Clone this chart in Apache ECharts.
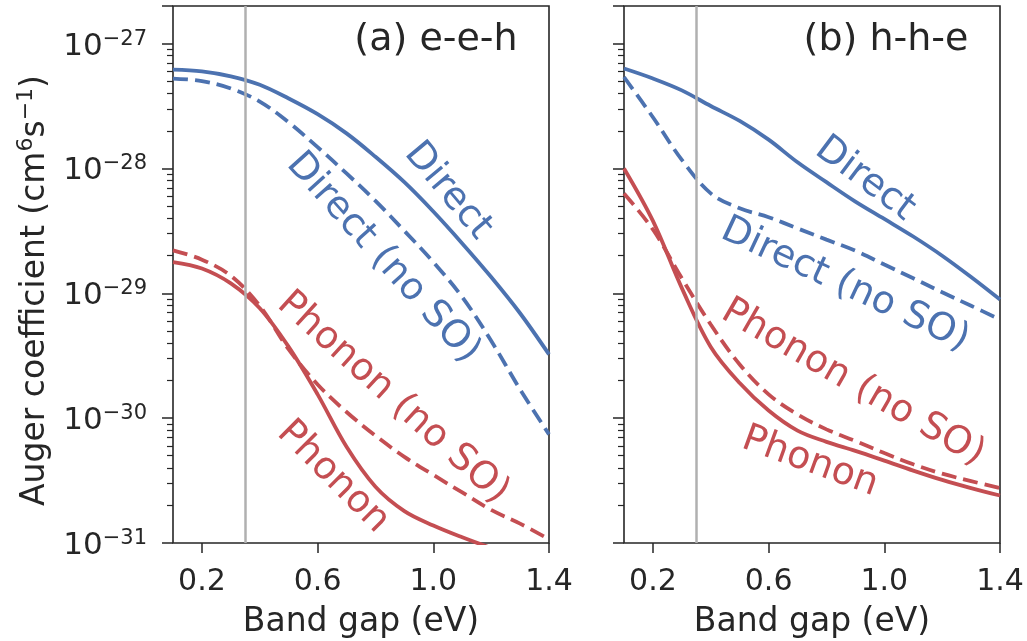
<!DOCTYPE html>
<html>
<head>
<meta charset="utf-8">
<script src="https://cdn.jsdelivr.net/npm/echarts@6/dist/echarts.min.js"></script>
<style>
html,body{margin:0;padding:0;background:#fff;}
#chart{width:1027px;height:641px;}
</style>
</head>
<body>
<div id="chart"></div>
<script>
// ---- data (Auger coefficient in cm^6 s^-1) ----
const bandGap = [0.1,0.2,0.3,0.4,0.5,0.6,0.7,0.8,0.9,1.0,1.1,1.2,1.3,1.4];

// (a) e-e-h
const directA      = [6.19e-28,6.00e-28,5.47e-28,4.68e-28,3.63e-28,2.72e-28,1.91e-28,1.24e-28,7.76e-29,4.52e-29,2.51e-29,1.35e-29,6.92e-30,3.24e-30];
const directNoSOA  = [5.25e-28,5.01e-28,4.37e-28,3.43e-28,2.34e-28,1.48e-28,9.12e-29,5.50e-29,3.16e-29,1.78e-29,9.33e-30,4.17e-30,1.70e-30,7.41e-31];
const phononA      = [1.78e-29,1.58e-29,1.20e-29,7.59e-30,3.72e-30,1.55e-30,5.89e-31,2.82e-31,1.80e-31,1.38e-31,1.11e-31,9.12e-32,7.59e-32,6.31e-32];
const phononNoSOA  = [2.21e-29,1.86e-29,1.38e-29,7.94e-30,3.55e-30,1.86e-30,1.12e-30,7.24e-31,4.90e-31,3.51e-31,2.54e-31,1.84e-31,1.43e-31,1.07e-31];

// (b) h-h-e
const directB      = [6.31e-28,5.25e-28,4.22e-28,3.16e-28,2.40e-28,1.70e-28,1.12e-28,7.76e-29,5.43e-29,3.94e-29,2.85e-29,2.00e-29,1.35e-29,8.91e-30];
const directNoSOB  = [5.40e-28,2.57e-28,1.17e-28,6.31e-29,4.79e-29,4.07e-29,3.31e-29,2.69e-29,2.19e-29,1.70e-29,1.32e-29,1.02e-29,7.94e-30,6.17e-30];
const phononB      = [1.00e-28,3.80e-29,1.10e-29,3.72e-30,1.91e-30,1.15e-30,7.94e-31,6.46e-31,5.47e-31,4.57e-31,3.80e-31,3.20e-31,2.75e-31,2.40e-31];
const phononNoSOB  = [6.31e-29,3.24e-29,1.32e-29,5.62e-30,2.69e-30,1.55e-30,1.07e-30,8.13e-31,6.56e-31,5.25e-31,4.27e-31,3.59e-31,3.13e-31,2.75e-31];

const refGap = [0.35];
const xTickValues = [0.2,0.6,1.0,1.4];
const yMajorTicks = [1e-31,1e-30,1e-29,1e-28,1e-27];
const yRange = [1e-31, 2e-27];
const panelTitles = ['(a) e-e-h', '(b) h-h-e'];
const curveNames = ['Direct', 'Direct (no SO)', 'Phonon', 'Phonon (no SO)'];

// ECharts' log scale loses precision on numbers this small, so the axis works
// in units of 1e-31 cm^6 s^-1 and the labels convert back.
const UNIT_EXP = -31;
const toUnit = (v) => v / Math.pow(10, UNIT_EXP);

// ---- styling ----
const BLUE = '#4C72B0', RED = '#C44E52', INK = '#262626';
const FONT = 'DejaVu Sans';

const yMinorTicks = [];
for (let e = -31; e <= -27; e++) {
  for (let m = 2; m <= 9; m++) {
    const v = m * Math.pow(10, e);
    if (v > yRange[0] * 1.0001 && v < yRange[1] * 0.9999) yMinorTicks.push(toUnit(v));
  }
}
const yMajorU = yMajorTicks.map(toUnit);
const yMajorWithTop = yMajorU.concat([toUnit(yRange[1])]);

function pairs(ys){ return bandGap.map((x,i)=>[x, toUnit(ys[i])]); }

const chart = echarts.init(document.getElementById('chart'), null, {renderer:'canvas'});

const grids = [
  {left:173, top:6, width:376, height:537, show:true, borderColor:INK, borderWidth:1.6, backgroundColor:'transparent', containLabel:false, outerBoundsMode:'none'},
  {left:624, top:6, width:376, height:537, show:true, borderColor:INK, borderWidth:1.6, backgroundColor:'transparent', containLabel:false, outerBoundsMode:'none'}
];

function xAxisFor(i){
  return {
    type:'value', gridIndex:i, min:0.1, max:1.4,
    axisLine:{show:false},
    splitLine:{show:false},
    axisTick:{show:true, inside:false, length:10, customValues:xTickValues, lineStyle:{color:INK, width:1.5}},
    axisLabel:{show:true, customValues:xTickValues, margin:24, color:INK, fontFamily:FONT, fontSize:30,
      formatter:(v)=>Number(v).toFixed(1)},
    name:'Band gap (eV)', nameLocation:'middle', nameGap:63,
    nameTextStyle:{color:INK, fontFamily:FONT, fontSize:33}
  };
}

function yMajorAxis(i, withLabels){
  const ax = {
    type:'log', logBase:10, gridIndex:i, min:toUnit(yRange[0]), max:toUnit(yRange[1]), position:'left',
    axisLine:{show:false},
    splitLine:{show:false},
    minorTick:{show:false},
    axisTick:{show:true, inside:false, length:11, customValues:yMajorWithTop, lineStyle:{color:INK, width:1.5}},
    axisLabel:{show:withLabels, customValues:yMajorU, margin:26, color:INK, fontFamily:FONT,
      padding:[6,0,0,0],
      formatter:(v)=>'{b|10}{s|\u2212' + (-(Math.round(Math.log10(v)) + UNIT_EXP)) + '}',
      rich:{
        b:{fontSize:31, lineHeight:36, fontFamily:FONT, color:INK, verticalAlign:'middle'},
        s:{fontSize:21, lineHeight:20, fontFamily:FONT, color:INK, verticalAlign:'top'}
      }}
  };
  if (withLabels) {
    ax.name = '{n|Auger coefficient (cm}{s|6}{n|s}{s|\u22121}{n|)}';
    ax.nameLocation = 'middle';
    ax.nameGap = 118;
    ax.nameRotate = 90;
    ax.nameTextStyle = {color:INK, fontFamily:FONT, padding:[0,32,0,0],
      rich:{
        n:{fontSize:33, lineHeight:40, fontFamily:FONT, color:INK, verticalAlign:'middle'},
        s:{fontSize:22, lineHeight:22, fontFamily:FONT, color:INK, verticalAlign:'top'}
      }};
  }
  return ax;
}
function yMinorAxis(i){
  return {
    type:'log', logBase:10, gridIndex:i, min:toUnit(yRange[0]), max:toUnit(yRange[1]), position:'left',
    axisLine:{show:false}, splitLine:{show:false}, axisLabel:{show:false},
    axisTick:{show:true, inside:false, length:6, customValues:yMinorTicks, lineStyle:{color:INK, width:1.2}}
  };
}

function lineSeries(name, ys, xi, yi, color, dashed){
  return {
    type:'line', name:name, xAxisIndex:xi, yAxisIndex:yi, data:pairs(ys),
    showSymbol:false, symbol:'none', smooth:0.35, clip:true, z:3,
    lineStyle:{color:color, width:3.8, type: dashed ? [15,7] : 'solid', cap:'butt'},
    silent:true, animation:false
  };
}
function refLine(xi, yi){
  return {
    type:'line', xAxisIndex:xi, yAxisIndex:yi, data:[], z:1, silent:true, animation:false,
    markLine:{symbol:['none','none'], silent:true, label:{show:false}, animation:false,
      lineStyle:{color:'#b0b0b0', width:2.5, type:'solid'},
      data: refGap.map(v=>({xAxis:v}))}
  };
}

function rotText(txt, x, y, deg, color){
  return {type:'text', x:x, y:y, rotation: -deg*Math.PI/180, z:10,
    style:{text:txt, fill:color, font:'38px "DejaVu Sans"', textAlign:'center', textVerticalAlign:'middle'}};
}

const option = {
  animation:false,
  backgroundColor:'#ffffff',
  grid: grids,
  xAxis: [xAxisFor(0), xAxisFor(1)],
  yAxis: [yMajorAxis(0,true), yMinorAxis(0), yMajorAxis(1,false), yMinorAxis(1)],
  series: [
    refLine(0,0), refLine(1,2),
    lineSeries(curveNames[0], directA, 0, 0, BLUE, false),
    lineSeries(curveNames[1], directNoSOA, 0, 0, BLUE, true),
    lineSeries(curveNames[2], phononA, 0, 0, RED, false),
    lineSeries(curveNames[3], phononNoSOA, 0, 0, RED, true),
    lineSeries(curveNames[0], directB, 1, 2, BLUE, false),
    lineSeries(curveNames[1], directNoSOB, 1, 2, BLUE, true),
    lineSeries(curveNames[2], phononB, 1, 2, RED, false),
    lineSeries(curveNames[3], phononNoSOB, 1, 2, RED, true)
  ],
  graphic: [
    {type:'text', x:436, y:40, z:10, style:{text:panelTitles[0], fill:INK, font:'38px "DejaVu Sans"', textAlign:'center', textVerticalAlign:'middle'}},
    {type:'text', x:886, y:40, z:10, style:{text:panelTitles[1], fill:INK, font:'38px "DejaVu Sans"', textAlign:'center', textVerticalAlign:'middle'}},
    rotText(curveNames[0], 448, 191, 50, BLUE),
    rotText(curveNames[1], 383, 258, 48, BLUE),
    rotText(curveNames[3], 393, 398, 42, RED),
    rotText(curveNames[2], 333, 477, 45, RED),
    rotText(curveNames[0], 865, 179, 37, BLUE),
    rotText(curveNames[1], 845, 285, 25, BLUE),
    rotText(curveNames[3], 853, 383, 30, RED),
    rotText(curveNames[2], 810, 462, 20, RED)
  ]
};
chart.setOption(option);
</script>
</body>
</html>
